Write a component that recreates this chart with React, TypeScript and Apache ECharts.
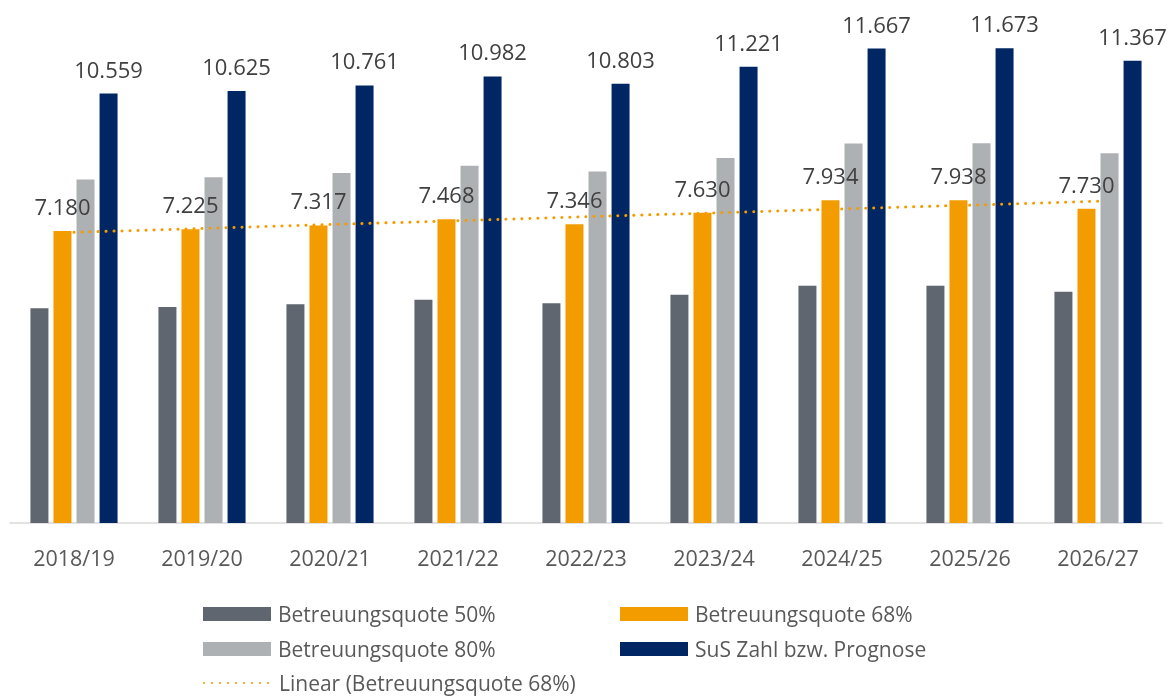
import React, { useEffect, useRef } from "react";
import * as echarts from "echarts";

const categories = ["2018/19", "2019/20", "2020/21", "2021/22", "2022/23", "2023/24", "2024/25", "2025/26", "2026/27"];
const quote50 = [5280, 5313, 5381, 5491, 5402, 5611, 5834, 5837, 5684];
const quote68 = [7180, 7225, 7317, 7468, 7346, 7630, 7934, 7938, 7730];
const quote80 = [8447, 8500, 8609, 8786, 8642, 8977, 9334, 9338, 9094];
const susZahl = [10559, 10625, 10761, 10982, 10803, 11221, 11667, 11673, 11367];

const names = [
  "Betreuungsquote 50%",
  "Betreuungsquote 68%",
  "Betreuungsquote 80%",
  "SuS Zahl bzw. Prognose",
  "Linear (Betreuungsquote 68%)",
];
const colors = ["#5f666f", "#f39c00", "#aeb1b4", "#002663", "#f39c00"];

// Linear trendline (least squares) of the 68% series
function linearTrend(values: number[]): number[] {
  const n = values.length;
  const xs = values.map((_, i) => i + 1);
  const mx = xs.reduce((a, b) => a + b, 0) / n;
  const my = values.reduce((a, b) => a + b, 0) / n;
  let sxy = 0, sxx = 0;
  for (let i = 0; i < n; i++) {
    sxy += (xs[i] - mx) * (values[i] - my);
    sxx += (xs[i] - mx) * (xs[i] - mx);
  }
  const slope = sxy / sxx;
  return xs.map((x) => my + slope * (x - mx));
}

const fmt = (v: number) => {
  const s = Math.round(v).toString();
  return s.length > 3 ? s.slice(0, s.length - 3) + "." + s.slice(s.length - 3) : s;
};

const FONT = "'Open Sans', 'Noto Sans', sans-serif";

export default function App() {
  const ref = useRef<HTMLDivElement>(null);
  useEffect(() => {
    if (!ref.current) return;
    const chart = echarts.init(ref.current, undefined, { renderer: "svg" });
    const labelStyle = {
      show: true,
      position: "top" as const,
      distance: 14,
      color: "#404040",
      fontSize: 22,
      fontFamily: FONT,
      formatter: (p: any) => fmt(p.value),
    };
    const legendBase = {
      itemWidth: 68,
      itemHeight: 14,
      textStyle: { color: "#595959", fontSize: 21, lineHeight: 24, fontFamily: FONT, padding: [0, 0, 0, 2] },
      selectedMode: false,
    };
    chart.setOption({
      animation: false,
      grid: { left: 10, right: 8, top: 35, bottom: 174 },
      xAxis: {
        type: "category",
        data: categories,
        axisLine: { lineStyle: { color: "#d9d9d9", width: 1.5 } },
        axisTick: { show: false },
        axisLabel: { color: "#595959", fontSize: 21.5, fontFamily: FONT, margin: 23 },
      },
      yAxis: { type: "value", min: 0, max: 12000, show: false, splitLine: { show: false } },
      legend: [
        { ...legendBase, icon: "rect", left: 198, top: 597, data: [names[0]] },
        { ...legendBase, icon: "rect", left: 615, top: 597, data: [names[1]] },
        { ...legendBase, icon: "rect", left: 198, top: 632, data: [names[2]] },
        { ...legendBase, icon: "rect", left: 615, top: 632, data: [names[3]] },
        { ...legendBase, left: 198, top: 666, data: [{ name: names[4], itemStyle: { opacity: 0 } }] },
      ],
      series: [
        { name: names[0], type: "bar", data: quote50, barWidth: 18, barGap: "28%", itemStyle: { color: colors[0] } },
        { name: names[1], type: "bar", data: quote68, barWidth: 18, barGap: "28%", itemStyle: { color: colors[1] }, label: labelStyle },
        { name: names[2], type: "bar", data: quote80, barWidth: 18, barGap: "28%", itemStyle: { color: colors[2] } },
        { name: names[3], type: "bar", data: susZahl, barWidth: 18, barGap: "28%", itemStyle: { color: colors[3] }, label: labelStyle },
        {
          name: names[4],
          type: "line",
          data: linearTrend(quote68),
          symbol: "none",
          z: 5,
          itemStyle: { color: colors[4] },
          lineStyle: { color: colors[4], width: 3, type: [0.1, 7.9], cap: "round" },
        },
      ],
    });
    return () => chart.dispose();
  }, []);
  return <div ref={ref} style={{ position: "fixed", left: 0, top: 0, width: 1170, height: 697 }} />;
}
